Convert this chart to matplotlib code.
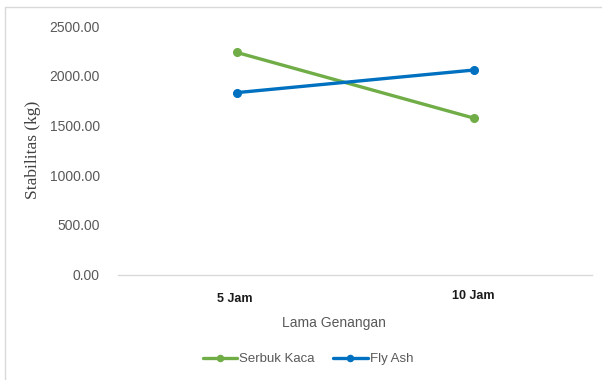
import matplotlib
matplotlib.use("Agg")
import matplotlib.pyplot as plt
from matplotlib.patches import Rectangle
from matplotlib.transforms import ScaledTranslation

# data
categories = ["5 Jam", "10 Jam"]
serbuk_kaca = [2235, 1575]
fly_ash = [1830, 2057]
y_ticks = [0, 500, 1000, 1500, 2000, 2500]

GREEN = "#70AD47"
BLUE = "#0070C0"
GRAY = "#595959"

plt.rcParams["font.family"] = ["Liberation Sans", "DejaVu Sans"]

W, H = 602, 380
fig = plt.figure(figsize=(W / 100, H / 100), dpi=100)

# outer chart border (cut off at right and bottom like the reference)
fig.patches.append(Rectangle((5 / W, -0.2), 1.2, 1.2 - 7 / H,
                             transform=fig.transFigure, fill=False,
                             edgecolor="#d9d9d9", linewidth=1.0))

ax = fig.add_axes([118 / W, 1 - 274.7 / H, (592 - 118) / W, (274.7 - 26) / H])

x = list(range(len(categories)))
ax.plot(x, serbuk_kaca, color=GREEN, linewidth=2.4, marker="o",
        markersize=5.5, label="Serbuk Kaca", solid_capstyle="round")
ax.plot(x, fly_ash, color=BLUE, linewidth=2.4, marker="o",
        markersize=5.5, label="Fly Ash", solid_capstyle="round")

ax.set_xlim(-0.5, 1.5)
ax.set_ylim(0, 2500)
ax.set_yticks(y_ticks)
ax.set_yticklabels([f"{v:.2f}" for v in y_ticks], fontsize=10, color=GRAY)
ax.set_xticks(x)
ax.set_xticklabels(categories, fontsize=9, fontweight="bold", color="#1a1a1a")
ax.tick_params(axis="y", length=0, pad=13)
ax.tick_params(axis="x", length=0, pad=13)

# the second category label sits a few pixels higher in the reference
lbl0, lbl1 = ax.get_xticklabels()
lbl0.set_transform(lbl0.get_transform() + ScaledTranslation(-0.02, 0, fig.dpi_scale_trans))
lbl1.set_transform(lbl1.get_transform() + ScaledTranslation(0, 0.03, fig.dpi_scale_trans))

for side in ["top", "right", "left"]:
    ax.spines[side].set_visible(False)
ax.spines["bottom"].set_color("#d9d9d9")
ax.spines["bottom"].set_linewidth(1.0)

ax.set_ylabel("Stabilitas (kg)", family=["Liberation Serif", "DejaVu Serif"],
              fontsize=12.5, color="#404040")
ax.yaxis.set_label_coords((41 - 118) / 474, 0.5)
ax.set_xlabel("Lama Genangan", fontsize=10, color=GRAY)
ax.xaxis.set_label_coords((334 - 118) / 474, (274.7 - 316) / 248.7)

fig.legend(loc="center", bbox_to_anchor=(308 / W, 1 - 359 / H), ncol=2,
           frameon=False, fontsize=9.5, handlelength=2.6, markerscale=0.8,
           handletextpad=0.15, columnspacing=1.4, labelcolor=GRAY)

fig.savefig("out.png", dpi=100)
